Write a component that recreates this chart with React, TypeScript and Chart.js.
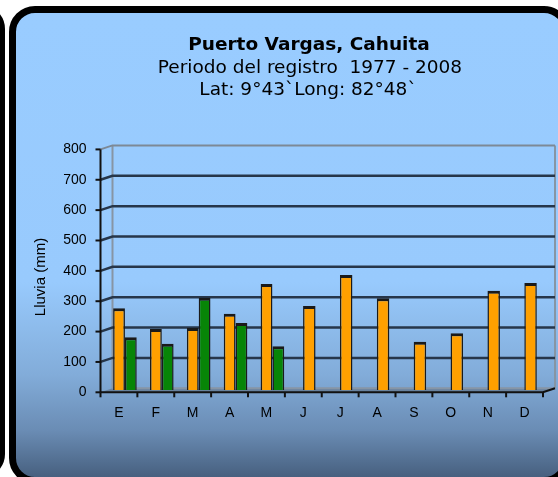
import { useEffect, useRef } from "react";
import { Chart, registerables } from "chart.js";

Chart.register(...registerables);

const months = ["E", "F", "M", "A", "M", "J", "J", "A", "S", "O", "N", "D"];
const lluviaA = [270, 202, 205, 252, 350, 278, 380, 303, 160, 188, 328, 353];
const lluviaB: (number | null)[] = [175, 153, 305, 222, 145, null, null, null, null, null, null, null];
const yMin = 0;
const yMax = 800;
const yStep = 100;
const titleText = "Puerto Vargas, Cahuita";
const subtitleLines = ["Periodo del registro  1977 - 2008", "Lat: 9°43`Long: 82°48`"];
const yTitle = "Lluvia (mm)";

const DX = 6;
const DY = 2;
const FONT = "'Liberation Sans', Arial, sans-serif";

function seg(ctx: CanvasRenderingContext2D, pts: number[][]) {
  ctx.beginPath();
  ctx.moveTo(pts[0][0], pts[0][1]);
  for (let i = 1; i < pts.length; i++) ctx.lineTo(pts[i][0], pts[i][1]);
  ctx.stroke();
}

const wallPlugin = {
  id: "wall3d",
  beforeDatasetsDraw(chart: any) {
    const { ctx, chartArea, scales } = chart;
    const { left, right, bottom } = chartArea;
    const y = scales.y;
    const topY = y.getPixelForValue(yMax);
    ctx.save();
    // floor
    ctx.fillStyle = "rgba(90,104,120,0.55)";
    ctx.beginPath();
    ctx.moveTo(left - DX, bottom + DY);
    ctx.lineTo(right - DX, bottom + DY);
    ctx.lineTo(right + DX, bottom - DY);
    ctx.lineTo(left + DX, bottom - DY);
    ctx.closePath();
    ctx.fill();
    // back wall edges
    ctx.strokeStyle = "#8795a4";
    ctx.lineWidth = 2;
    seg(ctx, [[left + DX, topY - DY], [left + DX, bottom - DY]]);
    seg(ctx, [[right + DX, topY - DY], [right + DX, bottom - DY]]);
    seg(ctx, [[left + DX, bottom - DY], [right + DX, bottom - DY]]);
    // grid lines
    y.ticks.forEach((t: any) => {
      if (t.value === yMin) return;
      const py = y.getPixelForValue(t.value);
      const isTop = t.value === yMax;
      ctx.strokeStyle = isTop ? "#7d8996" : "#26364a";
      ctx.lineWidth = isTop ? 2 : 2.5;
      seg(ctx, [[left - DX, py + DY], [left + DX, py - DY], [right + DX, py - DY]]);
    });
    ctx.restore();
  },
  afterDatasetsDraw(chart: any) {
    const { ctx, chartArea, scales } = chart;
    const { left, right, bottom } = chartArea;
    const y = scales.y;
    const x = scales.x;
    const topY = y.getPixelForValue(yMax);
    ctx.save();
    ctx.strokeStyle = "#111";
    ctx.lineWidth = 2;
    // front y axis
    seg(ctx, [[left - DX, topY + DY], [left - DX, bottom + DY]]);
    y.ticks.forEach((t: any) => {
      const py = y.getPixelForValue(t.value) + DY;
      seg(ctx, [[left - DX - 5, py], [left - DX, py]]);
    });
    // front x axis
    seg(ctx, [[left - DX, bottom + DY], [right - DX, bottom + DY], [right + DX, bottom - DY]]);
    const half = (x.getPixelForValue(1) - x.getPixelForValue(0)) / 2;
    for (let i = 0; i <= months.length; i++) {
      const px = x.getPixelForValue(Math.min(i, months.length - 1)) + (i === months.length ? half : -half) - DX;
      seg(ctx, [[px, bottom + DY], [px, bottom + DY + 5]]);
    }
    ctx.restore();
  },
  afterDraw(chart: any) {
    const { ctx } = chart;
    ctx.save();
    ctx.fillStyle = "#000";
    ctx.textAlign = "center";
    ctx.textBaseline = "alphabetic";
    ctx.font = "bold 18.5px 'DejaVu Sans', Verdana, sans-serif";
    ctx.fillText(titleText, 309, 50);
    ctx.font = "18.5px 'DejaVu Sans', Verdana, sans-serif";
    ctx.fillText(subtitleLines[0], 310, 72.5);
    ctx.fillText(subtitleLines[1], 308, 94.5);
    // y axis title
    ctx.translate(41, 277);
    ctx.rotate(-Math.PI / 2);
    ctx.textBaseline = "middle";
    ctx.font = "15px " + FONT;
    ctx.fillText(yTitle, 0, 0);
    ctx.restore();
  },
};

export default function App() {
  const ref = useRef<HTMLCanvasElement>(null);
  useEffect(() => {
    const chart = new Chart(ref.current!, {
      type: "bar",
      data: {
        labels: months,
        datasets: [
          {
            label: "A",
            data: lluviaA,
            backgroundColor: "#ffa000",
            borderColor: "#1a1a1a",
            borderWidth: { top: 3, left: 1.5, right: 1.5, bottom: 0 },
            borderSkipped: "start",
          },
          {
            label: "B",
            data: lluviaB,
            backgroundColor: "#078507",
            borderColor: "#1a1a1a",
            borderWidth: { top: 3, left: 1.5, right: 1.5, bottom: 0 },
            borderSkipped: "start",
          },
        ],
      },
      options: {
        responsive: false,
        animation: false,
        devicePixelRatio: 1,
        datasets: {
          bar: {
            barPercentage: 1,
            categoryPercentage: 0.64,
            maxBarThickness: 12.5,
            skipNull: true,
          },
        },
        layout: { padding: { left: 29, right: 9, top: 147.4, bottom: 46.7 } },
        plugins: {
          legend: { display: false },
          tooltip: { enabled: false },
          title: { display: false },
        },
        scales: {
          x: {
            grid: { display: false, drawTicks: false },
            border: { display: false },
            ticks: {
              padding: 14,
              labelOffset: -DX,
              color: "#000",
              font: { family: FONT, size: 14 },
            },
            afterFit: (s: any) => {
              s.height = 40;
            },
          },
          y: {
            min: yMin,
            max: yMax,
            grid: { display: false, drawTicks: false },
            border: { display: false },
            ticks: {
              stepSize: yStep,
              padding: 20,
              labelOffset: DY,
              color: "#000",
              font: { family: FONT, size: 14 },
            },
            afterFit: (s: any) => {
              s.width = 77.5;
            },
          },
        },
      },
      plugins: [wallPlugin],
    });
    return () => chart.destroy();
  }, []);

  return (
    <div style={{ position: "fixed", left: 0, top: 0, width: 558, height: 477, overflow: "hidden", background: "#fff" }}>
      <div
        style={{
          position: "absolute",
          left: -200,
          top: 5,
          width: 205,
          height: 473,
          border: "5px solid #000",
          borderRadius: 24,
          boxSizing: "border-box",
        }}
      />
      <div
        style={{
          position: "absolute",
          left: 9,
          top: 6,
          width: 561,
          height: 478,
          border: "7px solid #000",
          borderRadius: 26,
          boxSizing: "border-box",
          background:
            "linear-gradient(to bottom, #99ccff 0%, #98cafd 58%, #82acd9 78%, #6a8cb4 90%, #47607f 100%)",
        }}
      />
      <canvas ref={ref} width={558} height={477} style={{ position: "absolute", left: 0, top: 0, width: 558, height: 477 }} />
    </div>
  );
}
